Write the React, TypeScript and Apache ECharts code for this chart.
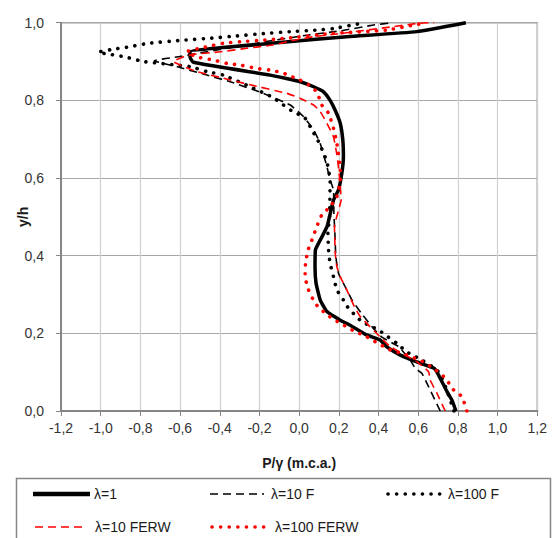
import React, { useEffect, useRef } from "react";
import * as echarts from "echarts";

const xTicks = { min: -1.2, max: 1.2, step: 0.2 };
const yTicks = { min: 0, max: 1, step: 0.2 };

const seriesNames = ["λ=1", "λ=10 F", "λ=100 F", "λ=10 FERW", "λ=100 FERW"];

// [P/γ, y/h]
const lambda1: [number, number][] = [
  [0.79, 0], [0.77, 0.028], [0.745, 0.05], [0.70, 0.095], [0.68, 0.11], [0.60, 0.125],
  [0.51, 0.144], [0.44, 0.166], [0.408, 0.183], [0.34, 0.196], [0.257, 0.221], [0.207, 0.234],
  [0.14, 0.256], [0.106, 0.286], [0.085, 0.33], [0.08, 0.37], [0.082, 0.415], [0.106, 0.44],
  [0.14, 0.474], [0.153, 0.5], [0.173, 0.543], [0.198, 0.569], [0.215, 0.612], [0.223, 0.655],
  [0.22, 0.698], [0.207, 0.741], [0.181, 0.775], [0.156, 0.8], [0.123, 0.822], [0.073, 0.835],
  [0.006, 0.848], [-0.07, 0.857], [-0.146, 0.865], [-0.533, 0.898], [-0.55, 0.912],
  [-0.55, 0.925], [-0.07, 0.95], [0.24, 0.964], [0.593, 0.977], [0.84, 1.0],
];

const lambda10F: [number, number][] = [
  [0.711, 0], [0.644, 0.071], [0.618, 0.097], [0.585, 0.11], [0.56, 0.131], [0.50, 0.166],
  [0.417, 0.19], [0.367, 0.217], [0.316, 0.25], [0.266, 0.286], [0.232, 0.32], [0.198, 0.355],
  [0.185, 0.397], [0.18, 0.458], [0.175, 0.51], [0.173, 0.569], [0.156, 0.595], [0.14, 0.629],
  [0.106, 0.689], [0.073, 0.724], [0.022, 0.758], [-0.045, 0.788], [-0.18, 0.818],
  [-0.348, 0.848], [-0.499, 0.87], [-0.617, 0.887], [-0.73, 0.902], [-0.6, 0.913],
  [-0.3, 0.94], [0.0, 0.965], [0.207, 0.979], [0.375, 0.994], [0.47, 1.0],
];

const lambda100F: [number, number][] = [
  [0.78, 0], [0.75, 0.045], [0.72, 0.085], [0.694, 0.106], [0.619, 0.131], [0.585, 0.14],
  [0.54, 0.153], [0.493, 0.174], [0.434, 0.196], [0.40, 0.209], [0.358, 0.219], [0.316, 0.23],
  [0.282, 0.247], [0.249, 0.264], [0.223, 0.286], [0.19, 0.312], [0.173, 0.346], [0.156, 0.38],
  [0.148, 0.415], [0.145, 0.458], [0.153, 0.5], [0.155, 0.55], [0.156, 0.595], [0.148, 0.621],
  [0.14, 0.642], [0.123, 0.664], [0.106, 0.685], [0.089, 0.702], [0.064, 0.724], [0.03, 0.754],
  [-0.04, 0.774], [-0.079, 0.788], [-0.138, 0.809], [-0.247, 0.835], [-0.382, 0.865],
  [-0.465, 0.874], [-0.55, 0.887], [-0.785, 0.9], [-0.877, 0.912], [-0.961, 0.919],
  [-1.012, 0.924], [-0.944, 0.931], [-0.852, 0.938], [-0.76, 0.947], [-0.583, 0.955],
  [-0.449, 0.96], [-0.314, 0.966], [-0.18, 0.972], [-0.045, 0.977], [0.089, 0.981],
  [0.173, 0.985], [0.31, 0.998], [0.33, 1.0],
];

const lambda10FERW: [number, number][] = [
  [0.736, 0], [0.694, 0.046], [0.66, 0.08], [0.652, 0.101], [0.593, 0.127], [0.459, 0.166],
  [0.408, 0.191], [0.308, 0.243], [0.278, 0.269], [0.24, 0.312], [0.207, 0.346], [0.19, 0.372],
  [0.182, 0.406], [0.178, 0.475], [0.2, 0.52], [0.212, 0.545], [0.207, 0.58], [0.2, 0.62],
  [0.19, 0.66], [0.173, 0.706], [0.14, 0.741], [0.106, 0.771], [0.073, 0.788], [0.006, 0.805],
  [-0.062, 0.818], [-0.247, 0.84], [-0.382, 0.857], [-0.516, 0.874], [-0.6, 0.891],
  [-0.634, 0.9], [-0.55, 0.917], [-0.398, 0.925], [-0.264, 0.934], [-0.129, 0.943],
  [-0.062, 0.951], [0.073, 0.964], [0.207, 0.972], [0.476, 0.99], [0.61, 0.999], [0.68, 1.0],
];

const lambda100FERW: [number, number][] = [
  [0.845, 0], [0.83, 0.024], [0.812, 0.041], [0.77, 0.058], [0.745, 0.08], [0.711, 0.097],
  [0.686, 0.106], [0.652, 0.118], [0.61, 0.131], [0.56, 0.14], [0.518, 0.149], [0.484, 0.153],
  [0.442, 0.161], [0.40, 0.174], [0.367, 0.183], [0.324, 0.196], [0.282, 0.204], [0.24, 0.217],
  [0.207, 0.226], [0.165, 0.239], [0.131, 0.252], [0.081, 0.277], [0.047, 0.312], [0.03, 0.346],
  [0.032, 0.38], [0.045, 0.415], [0.064, 0.44], [0.089, 0.475], [0.114, 0.505], [0.156, 0.526],
  [0.19, 0.552], [0.207, 0.595], [0.207, 0.621], [0.19, 0.689], [0.173, 0.728], [0.148, 0.767],
  [0.114, 0.788], [0.089, 0.822], [0.047, 0.84], [0.005, 0.852], [-0.037, 0.861],
  [-0.079, 0.87], [-0.146, 0.878], [-0.213, 0.882], [-0.297, 0.891], [-0.364, 0.895],
  [-0.432, 0.904], [-0.516, 0.912], [-0.566, 0.925], [-0.465, 0.938], [-0.382, 0.947],
  [-0.297, 0.951], [-0.18, 0.955], [-0.062, 0.96], [0.156, 0.972], [0.442, 0.981],
  [0.576, 0.994], [0.644, 1.0],
];

const FONT = "'Liberation Sans', Arial, sans-serif";
const fmt = (v: number) => (Math.abs(v) < 1e-9 ? "0,0" : v.toFixed(1).replace(".", ","));

export default function App() {
  const ref = useRef<HTMLDivElement>(null);
  useEffect(() => {
    if (!ref.current) return;
    const chart = echarts.init(ref.current, null, { renderer: "svg" });
    const styles = [
      { color: "#000", width: 3.5, type: "solid" as any, cap: "butt" },
      { color: "#000", width: 1.6, type: [8, 5], cap: "butt" },
      { color: "#000", width: 3.6, type: [0.1, 8.5], cap: "round" },
      { color: "#ff0000", width: 1.6, type: [8, 5], cap: "butt" },
      { color: "#ff0000", width: 3.6, type: [0.1, 8.5], cap: "round" },
    ];
    const datas = [lambda1, lambda10F, lambda100F, lambda10FERW, lambda100FERW];
    const legendPos = [
      { x1: 33, x2: 90, tx: 94, y: 494 },
      { x1: 210, x2: 264, tx: 271, y: 494 },
      { x1: 388, x2: 443, tx: 448, y: 494 },
      { x1: 35, x2: 87, tx: 95, y: 527 },
      { x1: 212, x2: 268, tx: 275, y: 527 },
    ];
    const legendGraphics: any[] = [
      {
        type: "rect",
        shape: { x: 16.5, y: 478.5, width: 534, height: 80 },
        style: { fill: "#fff", stroke: "#868686", lineWidth: 1.5 },
        z: 10,
      },
    ];
    styles.forEach((s, i) => {
      const p = legendPos[i];
      legendGraphics.push({
        type: "line",
        shape: { x1: p.x1, y1: p.y, x2: p.x2, y2: p.y },
        style: {
          stroke: s.color,
          lineWidth: i === 0 ? 4.5 : s.width,
          lineDash: Array.isArray(s.type) ? s.type : null,
          lineCap: s.cap,
        },
        z: 11,
      });
      legendGraphics.push({
        type: "text",
        x: p.tx,
        y: p.y,
        style: {
          text: seriesNames[i],
          font: `14px ${FONT}`,
          fill: "#1a1a1a",
          verticalAlign: "middle",
        },
        z: 11,
      });
    });

    chart.setOption({
      animation: false,
      backgroundColor: "#fff",
      grid: {
        left: 61,
        top: 22.7,
        right: 17.7,
        bottom: 127,
        show: true,
        borderColor: "#999",
        borderWidth: 1.5,
      },
      xAxis: {
        type: "value",
        min: xTicks.min,
        max: xTicks.max,
        interval: xTicks.step,
        name: "P/γ (m.c.a.)",
        nameLocation: "middle",
        nameGap: 45,
        nameMoveOverlap: false,
        nameTextStyle: { fontFamily: FONT, fontSize: 14, fontWeight: "bold", color: "#1a1a1a" },
        axisLine: { show: true, onZero: false, lineStyle: { color: "#868686", width: 2 } },
        axisTick: { show: true, length: 5, lineStyle: { color: "#868686", width: 1 } },
        axisLabel: { formatter: fmt, fontFamily: FONT, fontSize: 14, color: "#333", margin: 10 },
        splitLine: { show: true, lineStyle: { color: "#d0d0d0", width: 1.2 } },
      },
      yAxis: {
        type: "value",
        min: yTicks.min,
        max: yTicks.max,
        interval: yTicks.step,
        name: "y/h",
        nameLocation: "middle",
        nameRotate: 90,
        nameGap: 31,
        nameMoveOverlap: false,
        nameTextStyle: { fontFamily: FONT, fontSize: 14, fontWeight: "bold", color: "#1a1a1a" },
        axisLine: { show: true, onZero: false, lineStyle: { color: "#868686", width: 2 } },
        axisTick: { show: true, length: 5, lineStyle: { color: "#868686", width: 1 } },
        axisLabel: { formatter: fmt, fontFamily: FONT, fontSize: 14, color: "#333", margin: 17 },
        splitLine: { show: true, lineStyle: { color: "#a6a6a6", width: 1.2 } },
      },
      series: datas.map((d, i) => ({
        name: seriesNames[i],
        type: "line",
        data: d,
        showSymbol: false,
        symbol: "none",
        smooth: 0.15,
        clip: true,
        lineStyle: {
          color: styles[i].color,
          width: styles[i].width,
          type: styles[i].type,
          cap: styles[i].cap,
          join: "round",
        },
      })),
      graphic: legendGraphics,
    });
    return () => chart.dispose();
  }, []);
  return (
    <div
      ref={ref}
      style={{ position: "fixed", left: 0, top: 0, width: 555, height: 538, background: "#fff" }}
    />
  );
}
